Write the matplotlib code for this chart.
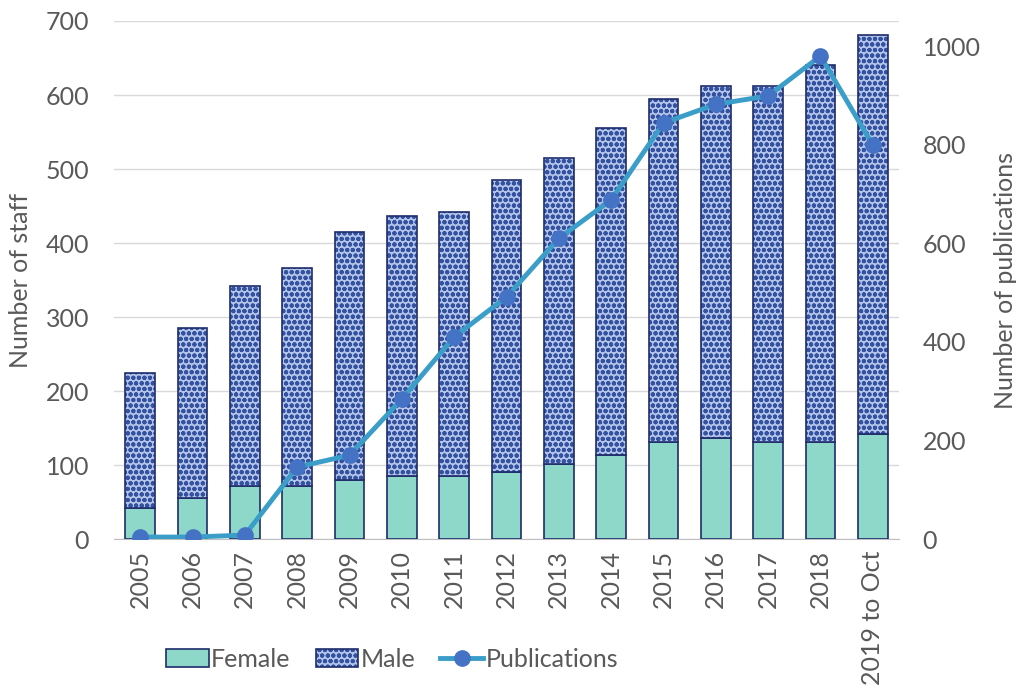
import matplotlib.pyplot as plt
import numpy as np

plt.rcParams['font.family'] = ['Lato', 'DejaVu Sans']
plt.rcParams['hatch.linewidth'] = 1.4

years = ['2005', '2006', '2007', '2008', '2009', '2010', '2011', '2012',
         '2013', '2014', '2015', '2016', '2017', '2018', '2019 to Oct']
female = [42, 55, 72, 72, 80, 85, 85, 90, 101, 114, 131, 136, 131, 131, 142]
total = [225, 285, 342, 366, 415, 436, 442, 485, 515, 555, 595, 612, 612, 640, 681]
male = [t - f for t, f in zip(total, female)]
publications = [4, 4, 8, 146, 170, 284, 410, 491, 610, 688, 844, 882, 899, 980, 799]

txt = '#595959'
navy = '#1f2d6b'
dots = '#34529f'
male_fill = '#b3c5ea'
x = np.arange(len(years))

fig = plt.figure(figsize=(10.21, 6.93), dpi=100)
ax = fig.add_axes([0.1117, 0.2222, 0.7688, 0.7475])
ax2 = ax.twinx()

#bars
ax.bar(x, female, 0.57, color='#8ed8ca', edgecolor=navy, linewidth=1.2, label='Female', zorder=3)
# hatch takes the edge colour, so dots first, then the dark outline on top
ax.bar(x, male, 0.57, bottom=female, color=male_fill, edgecolor=dots, hatch='ooo',
       linewidth=0, zorder=3)
ax.bar(x, male, 0.57, bottom=female, fill=False, edgecolor=navy, linewidth=1.2, zorder=4)
male_handle = (plt.Rectangle((0, 0), 1, 1, facecolor=male_fill, edgecolor=dots, hatch='ooo', linewidth=0),
               plt.Rectangle((0, 0), 1, 1, fill=False, edgecolor=navy, linewidth=1.2))

ax.set_xlim(-0.5, len(years) - 0.5)
ax.set_ylim(0, 700)
ax.set_yticks(range(0, 701, 100))
ax.set_xticks(x)
ax.set_xticklabels(years, rotation=90)
ax.grid(axis='y', color='#d9d9d9', linewidth=1, zorder=0)
ax.set_ylabel('Number of staff', color=txt, fontsize=18, labelpad=10)
ax.tick_params(colors=txt, labelsize=18, length=0)
ax.tick_params(axis='y', pad=18)
ax.tick_params(axis='x', pad=8)
for s in ['top', 'right', 'left']:
    ax.spines[s].set_visible(False)
ax.spines['bottom'].set_color('#bfbfbf')

#line
line, = ax2.plot(x, publications, '-o', color='#3a9ec9', linewidth=3.5,
                 markersize=11, markerfacecolor='#4472c4', markeredgecolor='#4472c4',
                 label='Publications', zorder=5)
ax2.set_ylim(0, 1051)
ax2.set_yticks(range(0, 1001, 200))
ax2.set_ylabel('Number of publications', color=txt, fontsize=18, labelpad=10)
ax2.tick_params(colors=txt, labelsize=18, length=0, pad=17)
for s in ['top', 'right', 'left', 'bottom']:
    ax2.spines[s].set_visible(False)

fem_handle = ax.patches[0]
fig.legend([fem_handle, male_handle, line], ['Female', 'Male', 'Publications'],
           loc='center', bbox_to_anchor=(0.384, 0.049), ncol=3,
           frameon=False, fontsize=18, labelcolor=txt, handlelength=1.7,
           handletextpad=0.1, columnspacing=1.0, borderaxespad=0)

fig.savefig('out.png', dpi=100)
